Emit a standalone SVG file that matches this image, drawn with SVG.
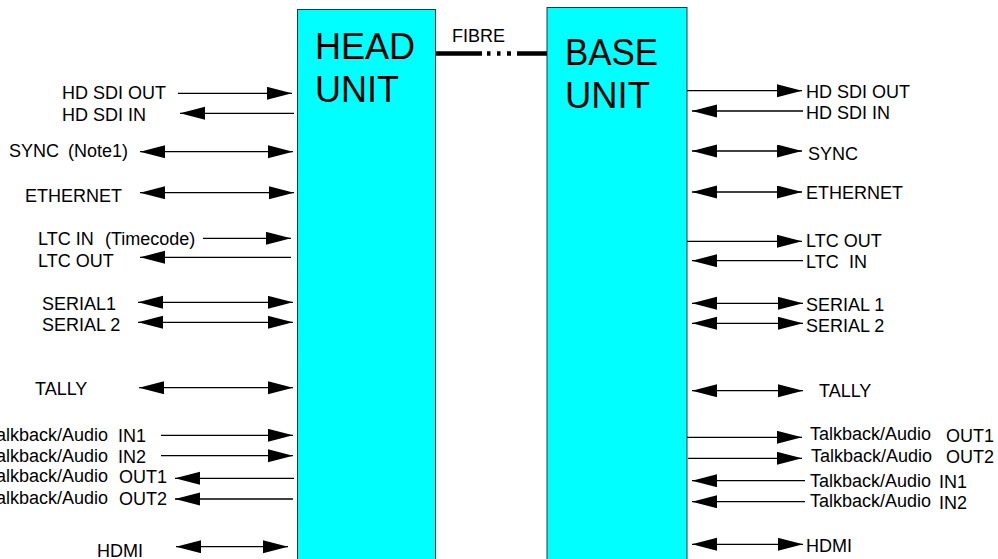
<svg xmlns="http://www.w3.org/2000/svg" width="998" height="559" viewBox="0 0 998 559">
<defs>
<marker id="ah" markerUnits="userSpaceOnUse" markerWidth="26" markerHeight="14" refX="25" refY="6.5" orient="auto-start-reverse" viewBox="0 0 26 14">
<path d="M0,0 L25,6.5 L0,13 Z" fill="#000"/>
</marker>
</defs>
<style>
.unit{fill:#00FFFF;stroke:#333;stroke-width:1}
.big{font-family:"Liberation Sans",Arial,sans-serif;font-size:37px;fill:#000}
.lbl{font-family:"Liberation Sans",Arial,sans-serif;font-size:18px;fill:#000}
.c{stroke:#000;stroke-width:1.3;fill:none}
.e{marker-end:url(#ah)}
.b{marker-start:url(#ah);marker-end:url(#ah)}
</style>
<rect width="998" height="559" fill="#fff"/>
<g id="head-unit">
<rect class="unit" x="297.5" y="9.5" width="138" height="560"/>
<text class="big" x="315" y="58.5" textLength="100" lengthAdjust="spacingAndGlyphs">HEAD</text>
<text class="big" x="315" y="101.5" textLength="84" lengthAdjust="spacingAndGlyphs">UNIT</text>
</g>
<g id="base-unit">
<rect class="unit" x="547" y="7.5" width="140" height="560"/>
<text class="big" x="565" y="65" textLength="93" lengthAdjust="spacingAndGlyphs">BASE</text>
<text class="big" x="565" y="108.3" textLength="85" lengthAdjust="spacingAndGlyphs">UNIT</text>
</g>
<g id="connectors">
<path id="fibre" d="M436,53.5 H547" stroke="#000" stroke-width="4.5" fill="none" stroke-dasharray="46 5 3.5 6.5 3.5 6.5 4 6 30"/>
<path class="c e" d="M178,93.3 H292"/>
<path class="c e" d="M294,113.3 H180"/>
<path class="c b" d="M140,151.7 H293"/>
<path class="c b" d="M140,192.7 H294"/>
<path class="c e" d="M203,238.3 H291"/>
<path class="c e" d="M291,257.3 H140"/>
<path class="c b" d="M138,302.3 H293"/>
<path class="c b" d="M138,322.3 H293"/>
<path class="c b" d="M139,387.7 H293"/>
<path class="c e" d="M161,435.3 H293"/>
<path class="c e" d="M161,455.7 H293"/>
<path class="c e" d="M294,478.3 H175"/>
<path class="c e" d="M293,499 H175"/>
<path class="c b" d="M176,546.7 H288"/>
<path class="c e" d="M687,90.7 H802"/>
<path class="c e" d="M803,111 H692"/>
<path class="c b" d="M692,151 H802"/>
<path class="c b" d="M692,192 H802"/>
<path class="c e" d="M687,241.3 H802"/>
<path class="c e" d="M803,260.7 H692"/>
<path class="c b" d="M692,303.3 H803"/>
<path class="c b" d="M692,323.3 H803"/>
<path class="c b" d="M692,390.7 H803"/>
<path class="c e" d="M687,437.3 H802"/>
<path class="c e" d="M688,458.3 H802"/>
<path class="c e" d="M805,480.7 H692"/>
<path class="c e" d="M805,501.7 H692"/>
<path class="c b" d="M692,544.3 H803"/>
</g>
<g id="labels">
<text class="lbl" x="452" y="42">FIBRE</text>
<text class="lbl" x="62" y="99">HD SDI OUT</text>
<text class="lbl" x="62" y="120.5">HD SDI IN</text>
<text class="lbl" x="9" y="157">SYNC <tspan x="68">(Note1)</tspan></text>
<text class="lbl" x="25" y="202">ETHERNET</text>
<text class="lbl" x="38" y="245">LTC IN <tspan x="105">(Timecode)</tspan></text>
<text class="lbl" x="38" y="266.5">LTC OUT</text>
<text class="lbl" x="42" y="310">SERIAL1</text>
<text class="lbl" x="42" y="331">SERIAL 2</text>
<text class="lbl" x="35" y="395">TALLY</text>
<text class="lbl" x="-13" y="440.5">Talkback/Audio <tspan x="118" y="441.7">IN1</tspan></text>
<text class="lbl" x="-13" y="461.5">Talkback/Audio <tspan x="118" y="462.7">IN2</tspan></text>
<text class="lbl" x="-13" y="482">Talkback/Audio <tspan x="119" y="483.3">OUT1</tspan></text>
<text class="lbl" x="-13" y="504">Talkback/Audio <tspan x="119" y="505">OUT2</tspan></text>
<text class="lbl" x="97" y="556.5">HDMI</text>
<text class="lbl" x="806" y="98.3">HD SDI OUT</text>
<text class="lbl" x="806" y="119.3">HD SDI IN</text>
<text class="lbl" x="808" y="160">SYNC</text>
<text class="lbl" x="806" y="199.3">ETHERNET</text>
<text class="lbl" x="806" y="246.7">LTC OUT</text>
<text class="lbl" x="806" y="268.3">LTC <tspan x="849">IN</tspan></text>
<text class="lbl" x="806" y="310.7">SERIAL 1</text>
<text class="lbl" x="806" y="331.7">SERIAL 2</text>
<text class="lbl" x="819" y="397.3">TALLY</text>
<text class="lbl" x="810" y="440">Talkback/Audio <tspan x="946" y="442">OUT1</tspan></text>
<text class="lbl" x="811" y="461.7">Talkback/Audio <tspan x="946" y="463">OUT2</tspan></text>
<text class="lbl" x="810" y="486.7">Talkback/Audio <tspan x="939" y="487.5">IN1</tspan></text>
<text class="lbl" x="810" y="506.7">Talkback/Audio <tspan x="939" y="509">IN2</tspan></text>
<text class="lbl" x="806" y="551.7">HDMI</text>
</g>
</svg>
